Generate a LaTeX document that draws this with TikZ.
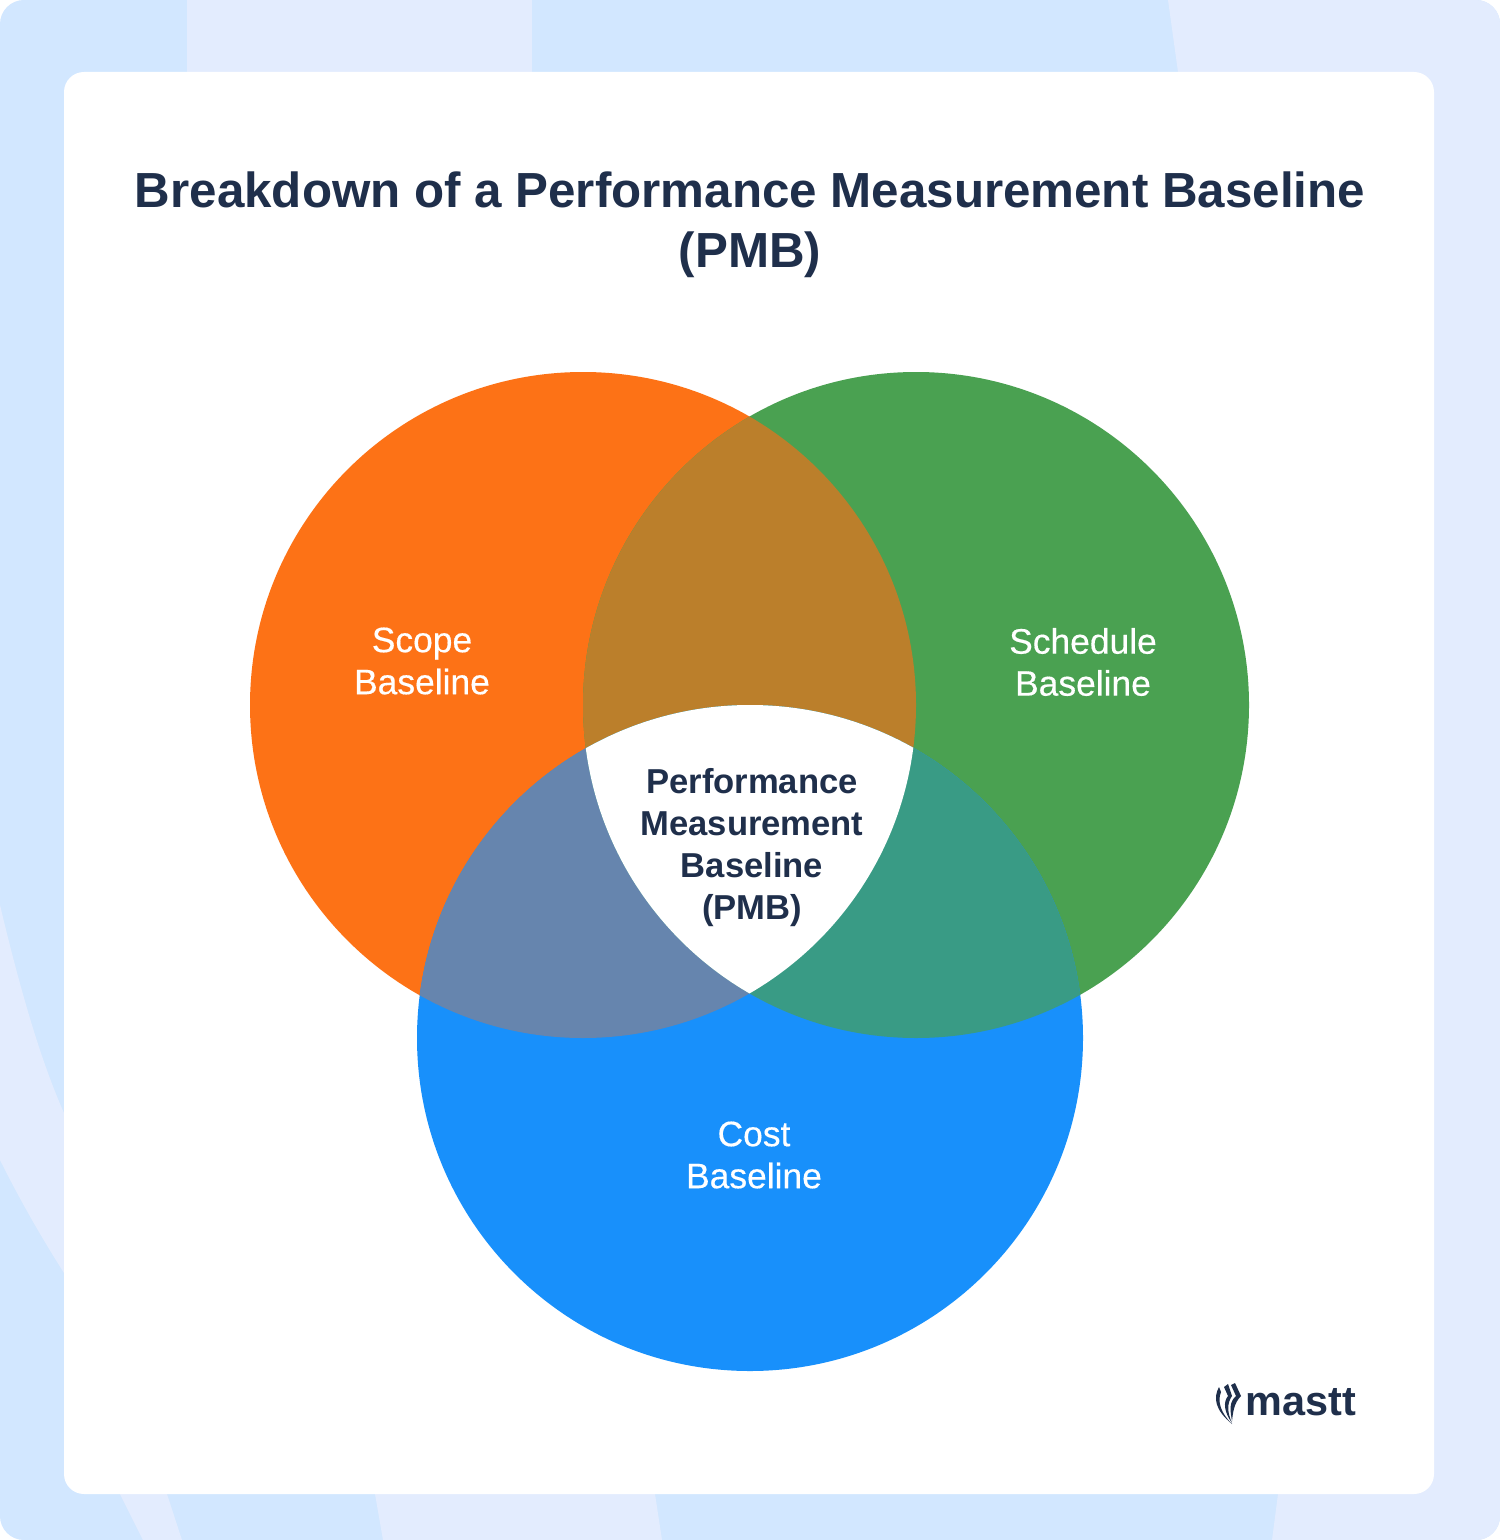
\documentclass[tikz,border=0pt]{standalone}
\usepackage{fontspec}
\setmainfont{Liberation Sans}
\newfontfamily\labelfont[FakeBold=0.35]{Liberation Sans}
\definecolor{bgblue}{HTML}{D2E7FF}
\definecolor{bglav}{HTML}{E3ECFE}
\definecolor{inkdark}{HTML}{1F2F4B}
\definecolor{scopecol}{HTML}{FD7216}
\definecolor{schedcol}{HTML}{4AA151}
\definecolor{costcol}{HTML}{1890FB}
\definecolor{scopeschedcol}{HTML}{BB7F2B}
\definecolor{scopecostcol}{HTML}{6685AE}
\definecolor{schedcostcol}{HTML}{399B85}
\begin{document}
\begin{tikzpicture}[
x=0.5pt,
y=-0.5pt,
setnode/.style={circle, inner sep=0pt, minimum size=333pt},
whitelabel/.style={align=center, text=white, font=\labelfont\fontsize{17.7pt}{21pt}\selectfont},
darklabel/.style={align=center, text=inkdark, font=\fontsize{17.3pt}{21pt}\selectfont\bfseries},
]
\useasboundingbox (0,0) rectangle (1500,1540);
\fill[white] (0,0) rectangle (1500,1540);
\begin{scope}
\clip[rounded corners=12pt] (0,0) rectangle (1500,1540);
\fill[bgblue] (0,0) rectangle (1500,1540);
\fill[bglav] (187,0) -- (532,0) -- (532,72) -- (187,72) -- cycle;
\fill[bglav] (1168,0) -- (1500,0) -- (1500,1540) -- (1272,1540) -- (1278,1494) -- (1178,72) -- cycle;
\fill[bglav] (375,1494) -- (655,1494) -- (662,1540) -- (383,1540) -- cycle;
\fill[bglav] (0,905) .. controls (25,1010) and (45,1070) .. (64,1113) -- (167,1494) -- (182,1540) -- (143,1540) -- (120,1494) .. controls (100,1440) and (80,1300) .. (64,1273) .. controls (40,1235) and (20,1200) .. (0,1160) -- cycle;
\end{scope}
\node[fill=white, rounded corners=10pt, inner sep=0pt, minimum width=685pt, minimum height=711pt] (card) at (749,783) {};
\node[text=inkdark, align=center, font=\fontsize{24.65pt}{30pt}\selectfont\bfseries] (title) at (750,225) {Breakdown of a Performance Measurement Baseline\\(PMB)};
\node[setnode, fill=scopecol] (scope) at (583,705) {};
\node[setnode, fill=schedcol] (sched) at (916,705) {};
\node[setnode, fill=costcol] (cost) at (750,1038) {};
\def\rad{166.5pt}
\begin{scope}
\clip (scope.center) circle (\rad);
\fill[scopeschedcol] (sched.center) circle (\rad);
\fill[scopecostcol] (cost.center) circle (\rad);
\end{scope}
\begin{scope}
\clip (sched.center) circle (\rad);
\fill[schedcostcol] (cost.center) circle (\rad);
\clip (scope.center) circle (\rad);
\fill[white] (cost.center) circle (\rad);
\end{scope}
\node[whitelabel] (scopetext) at (422,661) {Scope\\Baseline};
\node[whitelabel] (schedtext) at (1083,662) {Schedule\\Baseline};
\node[whitelabel] (costtext) at (754,1155) {Cost\\Baseline};
\node[darklabel] (pmbtext) at (752,848) {Performance\\Measurement\\Baseline\\(PMB)};
\node[text=inkdark, font=\fontsize{20.7pt}{21pt}\selectfont\bfseries, inner sep=0pt] (logotext) at (1301,1402) {mastt};
\fill[inkdark] (1219,1387) .. controls (1213,1398) and (1215,1410) .. (1232,1424) .. controls (1221,1413) and (1217,1402) .. (1221,1392) -- cycle;
\fill[inkdark] (1228,1384) -- (1232,1396) .. controls (1227,1403) and (1227,1412) .. (1232,1423) .. controls (1224,1412) and (1223,1402) .. (1228,1396) -- (1224,1387) -- cycle;
\fill[inkdark] (1235,1383) -- (1241,1396) .. controls (1234,1403) and (1233,1412) .. (1232,1421) .. controls (1230,1410) and (1229,1402) .. (1236,1396) -- (1231,1385) -- cycle;
\end{tikzpicture}
\end{document}
